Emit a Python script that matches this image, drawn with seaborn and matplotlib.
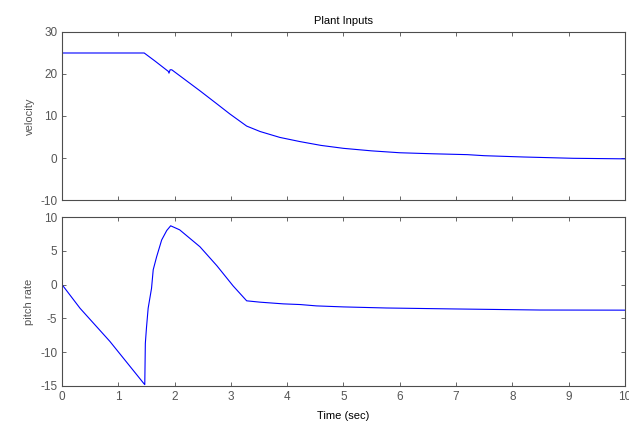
import numpy as np
import pandas as pd
import matplotlib
matplotlib.use("Agg")
import matplotlib.pyplot as plt
import seaborn as sns

# velocity (top panel)
vel_t = [0.0, 1.46, 1.65, 1.89, 1.90, 1.92, 1.95, 2.18, 2.45, 2.75, 2.98, 3.28,
         3.52, 3.87, 4.23, 4.6, 5.0, 5.5, 6.0, 6.6, 7.2, 7.5, 8.2, 9.08, 10.0]
vel_v = [25.0, 25.0, 23.1, 20.6, 20.2, 21.0, 21.0, 18.7, 16.0, 12.9, 10.5, 7.6,
         6.3, 4.9, 3.9, 3.0, 2.3, 1.7, 1.25, 1.0, 0.8, 0.55, 0.24, -0.07, -0.2]

# pitch rate (bottom panel)
pit_t = [0.0, 0.32, 0.85, 1.45, 1.47, 1.48, 1.50, 1.53, 1.59, 1.62, 1.68, 1.77,
         1.86, 1.93, 2.09, 2.45, 2.75, 3.04, 3.28, 3.52, 3.93, 4.23, 4.52, 5.0,
         5.76, 6.95, 8.49, 10.0]
pit_v = [0.0, -3.5, -8.4, -14.6, -14.8, -8.7, -6.4, -3.5, -0.55, 2.2, 4.1, 6.6,
         8.0, 8.7, 8.1, 5.6, 2.8, -0.2, -2.4, -2.6, -2.85, -2.95, -3.15, -3.3,
         -3.46, -3.6, -3.76, -3.78]

sns.set_style("ticks")
plt.rcParams["font.family"] = ["Liberation Sans", "DejaVu Sans"]
plt.rcParams["axes.unicode_minus"] = False

grey = "#4d4d4d"
fig = plt.figure(figsize=(6.29, 4.26), dpi=100)
ax1 = fig.add_axes([0.0986, 0.5305, 0.895, 0.3944])
ax2 = fig.add_axes([0.0986, 0.0939, 0.895, 0.3967])

df1 = pd.DataFrame({"t": vel_t, "v": vel_v})
df2 = pd.DataFrame({"t": pit_t, "p": pit_v})
sns.lineplot(data=df1, x="t", y="v", ax=ax1, color="#0000ff", linewidth=0.8)
sns.lineplot(data=df2, x="t", y="p", ax=ax2, color="#0000ff", linewidth=0.8)

for ax in (ax1, ax2):
    ax.set_xlim(0, 10)
    ax.set_xticks(range(0, 11))
    for s in ax.spines.values():
        s.set_visible(True)
        s.set_color(grey)
        s.set_linewidth(0.8)
    ax.tick_params(direction="in", top=True, right=True, length=3,
                   width=0.6, colors=grey, labelsize=8.5, labelcolor="#555555")

ax1.set_ylim(-10, 30)
ax1.set_yticks([-10, 0, 10, 20, 30])
ax1.set_xticklabels([])
ax1.set_xlabel("")
ax1.set_ylabel("velocity", fontsize=8, color="#555555")
ax1.set_title("Plant Inputs", fontsize=8, color="black", pad=6)

ax2.set_ylim(-15, 10)
ax2.set_yticks([-15, -10, -5, 0, 5, 10])
ax2.set_ylabel("pitch rate", fontsize=8, color="#555555")
ax2.set_xlabel("Time (sec)", fontsize=8, color="black", labelpad=6)

plt.savefig("out.png", dpi=100)
